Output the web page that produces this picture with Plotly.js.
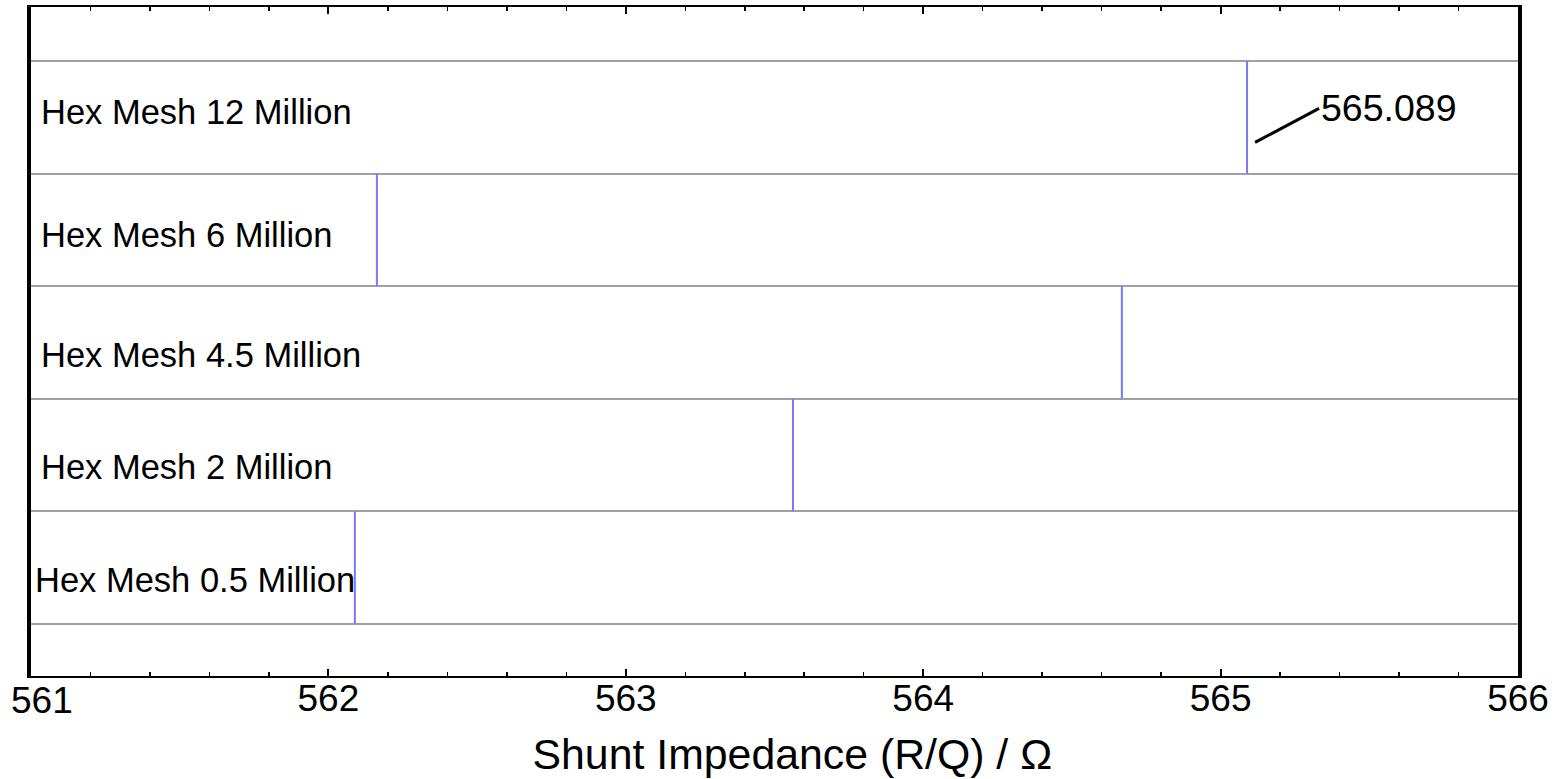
<!DOCTYPE html>
<html>
<head>
<meta charset="utf-8">
<script src="https://cdn.plot.ly/plotly-3.0.1.min.js"></script>
<style>
html,body{margin:0;padding:0;background:#fff;}
#chart{width:1560px;height:779px;}
</style>
</head>
<body>
<div id="chart"></div>
<script>
// ---- data ----
const meshLabels = ["Hex Mesh 0.5 Million", "Hex Mesh 2 Million", "Hex Mesh 4.5 Million", "Hex Mesh 6 Million", "Hex Mesh 12 Million"];
const shuntImpedance = [562.089, 563.562, 564.668, 562.163, 565.089];
const xTickValues = [561, 562, 563, 564, 565, 566];
const xTitle = "Shunt Impedance (R/Q) / Ω";
const annotatedIndex = 4;

// ---- build marks from data ----
const lx = [], ly = [];
shuntImpedance.forEach((v, i) => {
  lx.push(v, v, null);
  ly.push(i - 0.5, i + 0.5, null);
});
const boundaries = [];
for (let i = 0; i <= meshLabels.length; i++) boundaries.push(i - 0.5);

const FONT = "Liberation Sans, Arial, Helvetica, sans-serif";
const TICKFONT = {family: FONT, size: 37, color: "#000"};

const traces = [{
  type: "scatter",
  mode: "lines",
  x: lx,
  y: ly,
  line: {color: "#7878ff", width: 2},
  hoverinfo: "skip",
  showlegend: false,
  cliponaxis: false
}];

const annotations = meshLabels.map((t, i) => ({
  text: t,
  xref: "paper",
  x: 0,
  y: i,
  yref: "y",
  xanchor: "left",
  yanchor: "middle",
  xshift: i === 0 ? 2 : 8,
  yshift: i === 4 ? 5 : (i === 3 ? -5 : -12),
  showarrow: false,
  font: {family: FONT, size: 34.5, color: "#000"}
}));

annotations.push({
  text: shuntImpedance[annotatedIndex].toFixed(3),
  x: shuntImpedance[annotatedIndex],
  y: annotatedIndex,
  xref: "x",
  yref: "y",
  xshift: 8,
  yshift: -25,
  showarrow: true,
  arrowhead: 0,
  arrowwidth: 3,
  arrowcolor: "#000",
  ax: 64,
  ay: -34,
  xanchor: "left",
  yanchor: "middle",
  font: {family: FONT, size: 37.5, color: "#000"}
});

// first tick label sits just inside the left edge of the picture
annotations.push({
  text: String(xTickValues[0]),
  x: xTickValues[0],
  xref: "x",
  y: 0,
  yref: "paper",
  xanchor: "left",
  yanchor: "middle",
  xshift: -22,
  yshift: -24,
  showarrow: false,
  font: TICKFONT
});

const layout = {
  width: 1560,
  height: 779,
  paper_bgcolor: "#fff",
  plot_bgcolor: "#fff",
  margin: {l: 31, r: 42, t: 7, b: 103},
  showlegend: false,
  font: {family: FONT, color: "#000"},
  xaxis: {
    range: [561, 566],
    tickvals: xTickValues,
    ticktext: xTickValues.map((v, i) => (i === 0 ? "" : String(v))),
    ticklabeloverflow: "allow",
    ticks: "inside",
    ticklen: 7,
    tickwidth: 2,
    tickcolor: "#000",
    ticklabelstandoff: -11,
    minor: {dtick: 0.2, ticks: "inside", ticklen: 4, tickwidth: 1.5, tickcolor: "#000", showgrid: false},
    showgrid: false,
    zeroline: false,
    showline: true,
    linewidth: 2,
    linecolor: "#000",
    mirror: "ticks",
    tickfont: TICKFONT,
    title: {text: "&nbsp;&nbsp;&nbsp;" + xTitle, font: {family: FONT, size: 42.8, color: "#000"}, standoff: 21}
  },
  yaxis: {
    range: [-0.963, 4.981],
    tickvals: boundaries,
    showticklabels: false,
    ticks: "",
    showgrid: true,
    gridcolor: "#a0a0a0",
    gridwidth: 2,
    zeroline: false,
    showline: true,
    linewidth: 4,
    linecolor: "#000",
    mirror: true
  },
  annotations: annotations
};

Plotly.newPlot("chart", traces, layout, {displayModeBar: false, staticPlot: true});
</script>
</body>
</html>
